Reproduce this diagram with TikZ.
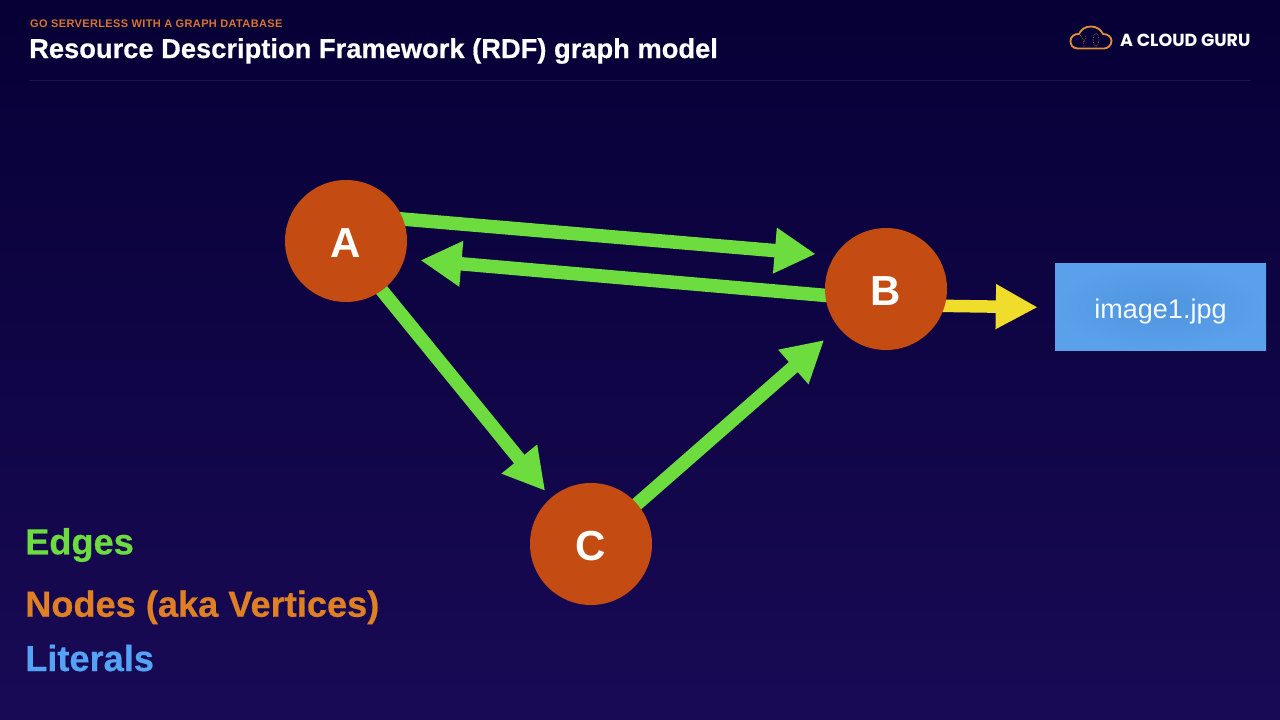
\documentclass[tikz,border=0pt]{standalone}
\usepackage{fontspec}
\setmainfont{Liberation Sans}
\newfontfamily\logofont{Poppins}
\usetikzlibrary{arrows.meta}
\pgfdeclarelayer{under}
\pgfsetlayers{under,main}
\definecolor{bgtop}{HTML}{060036}
\definecolor{bgbot}{HTML}{190A55}
\definecolor{nodeor}{HTML}{C44C12}
\definecolor{edgegr}{HTML}{6CDC3E}
\definecolor{litye}{HTML}{F0DC2A}
\definecolor{litin}{HTML}{4F94DF}
\definecolor{litout}{HTML}{5AA0EA}
\definecolor{legor}{HTML}{E08024}
\definecolor{legbl}{HTML}{54A3F5}
\definecolor{kicker}{HTML}{D8742E}
\definecolor{rulec}{HTML}{1B1350}
\definecolor{cloudc}{HTML}{E0913A}
\tikzset{
  x=1pt,y=-1pt,
  vertex/.style={circle,fill=nodeor,minimum size=122pt,inner sep=0pt,text=white,font=\fontsize{42}{42}\selectfont\bfseries},
  edge/.style={draw=edgegr,fill=edgegr,line width=13.5pt,shorten <=-6pt,-{Triangle[length=41pt,width=43pt]}},
  litedge/.style={draw=litye,fill=litye,line width=12.5pt,shorten <=-6pt,-{Triangle[length=42pt,width=42pt]}},
  literal/.style={inner color=litin,outer color=litout,minimum width=211pt,minimum height=87pt,inner sep=0pt,text=white!95!litin,font=\fontsize{27}{27}\selectfont},
  legend/.style={anchor=base west,inner sep=0pt,font=\fontsize{36.2}{36.2}\selectfont\bfseries\addfontfeature{FakeBold=0.5}},
  txt/.style={anchor=base west,inner sep=0pt},
}
\begin{document}
\begin{tikzpicture}
\useasboundingbox (0,0) rectangle (1280,720);
\begin{pgfonlayer}{under}
\shade[top color=bgtop,bottom color=bgbot] (0,0) rectangle (1280,720);
\end{pgfonlayer}
\coordinate (ruleL) at (29,80);
\coordinate (ruleR) at (1251,80);
\draw[rulec,line width=1pt] (ruleL) -- (ruleR);
\node[txt,text=kicker,font=\fontsize{11}{11}\selectfont\bfseries] (kick) at (30,27.5) {\addfontfeature{LetterSpace=3.4}GO SERVERLESS WITH A GRAPH DATABASE};
\node[txt,text=white,font=\fontsize{27.3}{27.3}\selectfont\bfseries\addfontfeature{FakeBold=0.5}] (title) at (29,58) {Resource Description Framework (RDF) graph model};
\node[txt,text=white,font=\fontsize{17.5}{17.5}\logofont\bfseries] (logo) at (1120,46) {A CLOUD GURU};
% cloud logo
\draw[cloudc,line width=1.8pt,line join=round]
  (1078,48.5) .. controls (1072,48.5) and (1070.5,44) .. (1070.5,41)
  .. controls (1070.5,37) and (1074,33.5) .. (1079,34)
  .. controls (1081,29) and (1086,26.5) .. (1091,26.5)
  .. controls (1097,26.5) and (1101,30) .. (1103,34)
  .. controls (1108,34) and (1111.5,37) .. (1111.5,41)
  .. controls (1111.5,45) and (1108,48.5) .. (1104,48.5) -- cycle;
\draw[cloudc!70!bgtop,line width=.7pt,densely dotted] (1096,33) .. controls (1100,36) and (1100,43) .. (1096,47) .. controls (1092,43) and (1092,36) .. (1096,33);
\draw[cloudc!70!bgtop,line width=.7pt,densely dotted] (1084,47) .. controls (1084,41) and (1083,38) .. (1080,35) (1084,42) .. controls (1085,39) and (1086,37) .. (1086,34);
\node[vertex] (A) at (346,241) {\raisebox{-16.3pt}[0pt][0pt]{A}};
\node[vertex] (B) at (886,289) {\raisebox{-16.3pt}[0pt][0pt]{B}};
\node[vertex] (C) at (591,544) {\raisebox{-16.3pt}[0pt][0pt]{C}};
\node[literal] (L) at (1160.5,306.5) {\raisebox{-12pt}[0pt][0pt]{image1.jpg}};
\begin{pgfonlayer}{under}
\draw[edge,shorten >=19pt] (A.21) -- (B.147);
\draw[edge,shorten >=16pt] (B.186) -- (A.-17);
\draw[edge,shorten >=9pt] (A.-54) -- (C.131);
\draw[edge,shorten >=19pt] (C.41) -- (B.219);
\draw[litedge,shorten >=17pt] (B.-16) -- ([yshift=-1pt]L.west);
\end{pgfonlayer}
\node[legend,text=edgegr] (l1) at (25,554.3) {Edges};
\node[legend,text=legor] (l2) at (25,616.7) {Nodes (aka Vertices)};
\node[legend,text=legbl] (l3) at (25,671) {Literals};
\end{tikzpicture}
\end{document}
